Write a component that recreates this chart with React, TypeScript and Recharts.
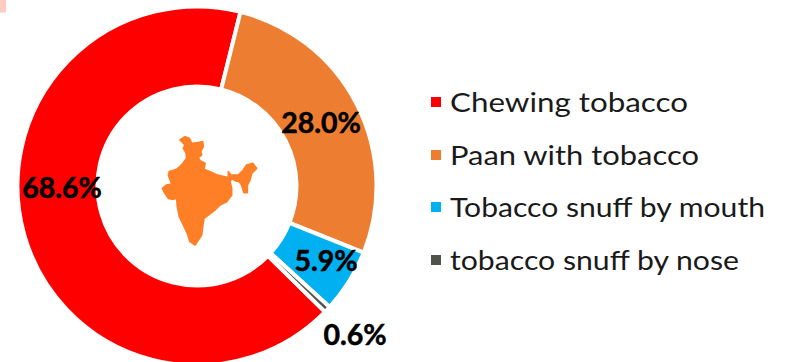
import { Cell, Legend, Pie, PieChart } from "recharts";

const categories = [
  "Chewing tobacco",
  "Paan with tobacco",
  "Tobacco snuff by mouth",
  "tobacco snuff by nose",
];
const shares = [68.6, 28.0, 5.9, 0.6];
const sliceColors = ["#FF0000", "#ED7D31", "#00B0F0", "#50534A"];

// hand-placed percentage labels, offset from the ring centre
const labelOffsets = [
  [-135, 1],
  [124, -64],
  [129, 74],
  [158, 148],
];
// rendered width of each legend entry; the labels use a wide, round face
const legendTextWidths = [238, 249, 315, 289];

const rows = categories.map((name, i) => ({ name, value: shares[i] }));

const CENTER_X = 197;
const CENTER_Y = 186;

const indiaOutline =
  "M150 90 L165 80 L178 85 L185 100 L205 98 L218 95 L220 110 L212 125 L215 135 L205 142 L210 152 L225 160 L222 178 L240 185 L262 195 L295 203 L295 185 L302 195 L325 195 L340 180 L350 165 L368 160 L380 175 L365 190 L360 210 L352 225 L352 248 L342 248 L335 225 L328 215 L315 212 L305 205 L300 215 L305 235 L305 255 L290 275 L270 285 L255 300 L235 315 L222 325 L218 350 L215 375 L195 405 L180 395 L172 370 L160 345 L148 320 L142 290 L140 265 L130 268 L115 265 L105 250 L97 235 L110 225 L125 222 L115 195 L118 185 L140 178 L155 165 L170 145 L168 128 L160 115 L165 105 Z";

function ShareLabel({ index, value }: { index: number; value: number }) {
  const [dx, dy] = labelOffsets[index];
  return (
    <text
      x={CENTER_X + dx}
      y={CENTER_Y + dy}
      textAnchor="middle"
      dominantBaseline="central"
      fontFamily="Lato, sans-serif"
      fontWeight={700}
      fontSize={28.5}
      fill="#000"
      stroke="#000"
      strokeWidth={0.5}
    >
      {value.toFixed(1)}%
    </text>
  );
}

function LegendList({ payload }: { payload?: { value: string; color: string }[] }) {
  return (
    <div>
      {(payload ?? []).map((item, i) => (
        <div
          key={item.value}
          style={{ display: "flex", alignItems: "center", height: 52.5 }}
        >
          <span
            style={{
              width: 10,
              height: 10,
              marginRight: 9,
              background: item.color,
            }}
          />
          <svg width={330} height={40}>
            <text
              x={0}
              y={30}
              textLength={legendTextWidths[i]}
              lengthAdjust="spacingAndGlyphs"
              fontFamily="Lato, sans-serif"
              fontSize={27.5}
              fill="#1a1a1a"
            >
              {item.value}
            </text>
          </svg>
        </div>
      ))}
    </div>
  );
}

export default function App() {
  return (
    <div style={{ position: "absolute", left: 0, top: 0, width: 791, height: 362, background: "#fff" }}>
      <PieChart width={791} height={362} margin={{ top: 0, right: 0, bottom: 0, left: 0 }}>
        <rect x={0} y={0} width={6} height={12.5} fill="#FFCCC2" />
        <Pie
          data={rows}
          dataKey="value"
          nameKey="name"
          cx={CENTER_X}
          cy={CENTER_Y}
          innerRadius={99.5}
          outerRadius={179.5}
          startAngle={-44.5}
          endAngle={-404.5}
          stroke="#fff"
          strokeWidth={4}
          isAnimationActive={false}
          labelLine={false}
          label={(props: any) => <ShareLabel index={props.index} value={props.value} />}
        >
          {rows.map((row, i) => (
            <Cell key={row.name} fill={sliceColors[i]} />
          ))}
        </Pie>
        <path
          d={indiaOutline}
          transform="translate(130 110) scale(0.3333)"
          fill="#FF7F27"
          stroke="#FF7F27"
          strokeWidth={5}
          strokeLinejoin="round"
        />
        <Legend
          layout="vertical"
          content={(props: any) => <LegendList payload={props.payload} />}
          wrapperStyle={{ position: "absolute", left: 431, top: 76, width: 360 }}
        />
      </PieChart>
    </div>
  );
}
